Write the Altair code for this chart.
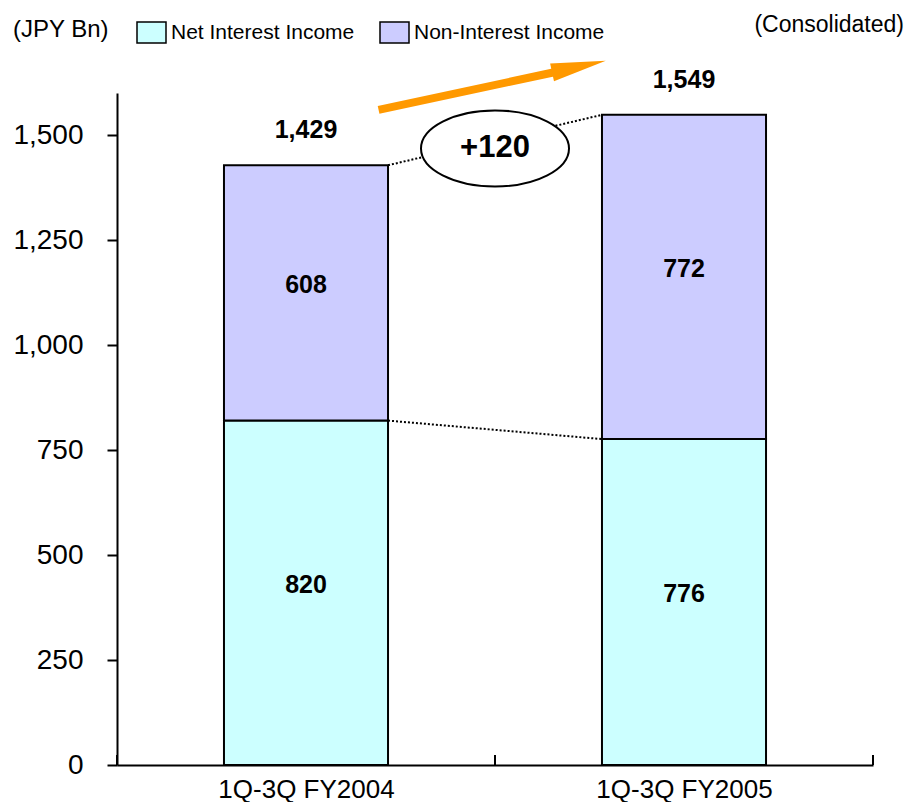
import altair as alt
import pandas as pd

# ---------------- data ----------------
categories = ["1Q-3Q FY2004", "1Q-3Q FY2005"]
series_names = ["Net Interest Income", "Non-Interest Income"]
net_interest = [820, 776]
non_interest = [608, 772]
total_labels = ["1,429", "1,549"]
change_label = "+120"
unit_label = "(JPY Bn)"
scope_label = "(Consolidated)"
y_ticks = [0, 250, 500, 750, 1000, 1250, 1500]

# ---------------- style / layout ----------------
colors = ["#CCFFFF", "#CCCCFF"]
ARROW_COLOR = "#FF9900"
FONT = "Liberation Sans"
HALF = 0.217          # half bar width, in category units
PLOT_W, PLOT_H = 756, 672
Y_MAX = 1600

totals = [a + b for a, b in zip(net_interest, non_interest)]

rows = []
for i, cat in enumerate(categories):
    c = i + 0.5
    base = 0
    for s, vals in zip(series_names, [net_interest, non_interest]):
        v = vals[i]
        rows.append(dict(category=cat, series=s, value=v, x0=c - HALF, x1=c + HALF,
                         xc=c, y0=base, y1=base + v, ym=base + v / 2))
        base += v
seg = pd.DataFrame(rows)

tot = pd.DataFrame(dict(xc=[i + 0.5 for i in range(len(categories))],
                        total=totals, label=total_labels))

conn = pd.DataFrame(dict(x0=[0.5 + HALF] * 2, x1=[1.5 - HALF] * 2,
                         y0=[totals[0], net_interest[0]],
                         y1=[totals[1], net_interest[1]]))

mid_x = len(categories) / 2
ell = pd.DataFrame(dict(x=[mid_x], y=[(totals[0] + totals[1]) / 2 - 20], t=[change_label]))

# arrow decoration (data units)
shaft = pd.DataFrame(dict(x0=[0.692], y0=[1560], x1=[1.16], y1=[1650]))
head = pd.DataFrame(dict(x=[1.222], y=[1663]))

bounds = pd.DataFrame(dict(b=list(range(len(categories) + 1))))

xscale = alt.Scale(domain=[0, len(categories)], nice=False, zero=False)
yscale = alt.Scale(domain=[0, Y_MAX], nice=False)

label_expr = "[" + ",".join("'" + c + "'" for c in categories) + "][floor(datum.value)]"

xaxis = alt.Axis(values=[i + 0.5 for i in range(len(categories))], labelExpr=label_expr,
                 ticks=False, tickSize=0, labelFont=FONT, labelFontSize=26, labelColor="black",
                 labelPadding=11, domainColor="black", domainWidth=2, grid=False, title=None,
                 labelAngle=0)
yaxis = alt.Axis(values=y_ticks, format=",d", labelFont=FONT, labelFontSize=28,
                 labelColor="black", tickSize=10, tickWidth=2, tickColor="black",
                 domainColor="black", domainWidth=2, labelPadding=24, grid=False, title=None)

legend = alt.Legend(title=None, orient="none", legendX=19, legendY=-76, direction="horizontal",
                    symbolType="M-1,-0.72L1,-0.72L1,0.72L-1,0.72Z", symbolSize=841,
                    symbolStrokeColor="black", symbolStrokeWidth=1.5, symbolOpacity=1,
                    labelFont=FONT, labelFontSize=21, labelColor="black", labelOffset=4,
                    columnPadding=22, padding=0, labelLimit=400)

bars = alt.Chart(seg).mark_bar(stroke="black", strokeWidth=2).encode(
    x=alt.X("x0:Q", scale=xscale, axis=xaxis, title=None),
    x2="x1:Q",
    y=alt.Y("y0:Q", scale=yscale, axis=yaxis, title=None),
    y2="y1:Q",
    color=alt.Color("series:N", scale=alt.Scale(domain=series_names, range=colors), legend=legend),
)

inner = alt.Chart(seg).mark_text(font=FONT, fontSize=25, fontWeight="bold", color="black",
                                 baseline="middle", dy=-8).encode(
    x=alt.X("xc:Q", title=None), y=alt.Y("ym:Q", title=None), text="value:Q")

top = alt.Chart(tot).mark_text(font=FONT, fontSize=25, fontWeight="bold", color="black",
                               baseline="alphabetic", dy=-27).encode(
    x=alt.X("xc:Q", title=None), y=alt.Y("total:Q", title=None), text="label:N")

connectors = alt.Chart(conn).mark_rule(color="black", strokeWidth=2, strokeDash=[2, 2]).encode(
    x=alt.X("x0:Q", title=None), x2="x1:Q", y=alt.Y("y0:Q", title=None), y2="y1:Q")

k = 0.5523
ry = 0.514
ellipse_path = (f"M-1,0 C-1,{-ry*k:.4f} {-k:.4f},{-ry} 0,{-ry} "
                f"C{k:.4f},{-ry} 1,{-ry*k:.4f} 1,0 "
                f"C1,{ry*k:.4f} {k:.4f},{ry} 0,{ry} "
                f"C{-k:.4f},{ry} -1,{ry*k:.4f} -1,0 Z")
ellipse = alt.Chart(ell).mark_point(shape=ellipse_path, size=148 * 148, filled=True, fill="white",
                                    stroke="black", strokeWidth=2, opacity=1).encode(
    x=alt.X("x:Q", title=None), y=alt.Y("y:Q", title=None))
ell_text = alt.Chart(ell).mark_text(font=FONT, fontSize=31, fontWeight="bold", color="black",
                                    baseline="middle").encode(
    x=alt.X("x:Q", title=None), y=alt.Y("y:Q", title=None), text="t:N")

arrow_shaft = alt.Chart(shaft).mark_rule(color=ARROW_COLOR, strokeWidth=8, strokeCap="butt").encode(
    x=alt.X("x0:Q", title=None), x2="x1:Q", y=alt.Y("y0:Q", title=None), y2="y1:Q")
arrow_head = alt.Chart(head).mark_point(shape="M-1,-0.33L1,0L-1,0.33Z", size=3025, angle=347.7,
                                        filled=True, fill=ARROW_COLOR, strokeWidth=0, opacity=1).encode(
    x=alt.X("x:Q", title=None), y=alt.Y("y:Q", title=None))

xticks = alt.Chart(bounds).mark_rule(color="black", strokeWidth=2).encode(
    x=alt.X("b:Q", title=None), y=alt.value(PLOT_H), y2=alt.value(PLOT_H - 10))

unit_text = alt.Chart(pd.DataFrame(dict(t=[unit_label]))).mark_text(
    font=FONT, fontSize=24, color="black", align="left", baseline="alphabetic").encode(
    x=alt.value(-104), y=alt.value(-56), text="t:N")
scope_text = alt.Chart(pd.DataFrame(dict(t=[scope_label]))).mark_text(
    font=FONT, fontSize=23, color="black", align="right", baseline="alphabetic").encode(
    x=alt.value(787), y=alt.value(-61), text="t:N")

chart = alt.layer(
    bars, inner, connectors, ellipse, ell_text, top, arrow_shaft, arrow_head, xticks,
    unit_text, scope_text
).properties(
    width=PLOT_W, height=PLOT_H,
    autosize=alt.AutoSizeParams(type="none"),
    padding={"left": 109, "top": 85, "right": 32, "bottom": 37},
    background="white",
).configure_view(stroke=None)

chart.save("out.html", embed_options={"renderer": "svg", "actions": False})
